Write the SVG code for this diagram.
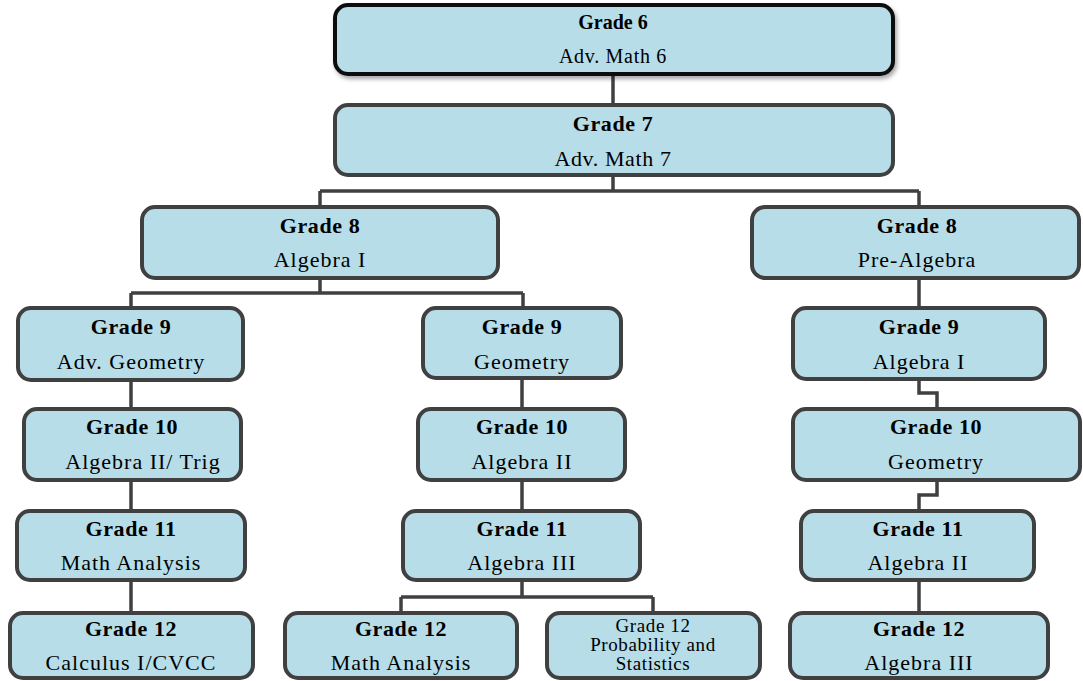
<svg xmlns="http://www.w3.org/2000/svg" width="1083" height="681" viewBox="0 0 1083 681">
<defs>
<style>
.box{fill:#b7dde8;stroke:#404040;stroke-width:4}
.top{fill:#b7dde8;stroke:#111;stroke-width:4}
.con{fill:none;stroke:#404040;stroke-width:3.5;stroke-linejoin:miter}
text{font-family:"Liberation Serif","Times New Roman",serif;fill:#000;text-anchor:middle}
.t{font-weight:bold;font-size:22px;letter-spacing:0.6px}
.s{font-size:22px;letter-spacing:1px}
.ss{font-size:19px;letter-spacing:0.6px}
</style>
<filter id="sh" x="-5%" y="-20%" width="110%" height="150%">
<feDropShadow dx="2" dy="3" stdDeviation="2" flood-color="#000" flood-opacity="0.35"/>
</filter>
</defs>
<rect width="1083" height="681" fill="#fff"/>
<g id="connectors">
<path class="con" d="M613,74V105"/>
<path class="con" d="M613,175V191M320,191H919M320,191V207M919,191V207"/>
<path class="con" d="M320,278V293M131,293H523M131,293V308M523,293V308"/>
<path class="con" d="M919,278V308"/>
<path class="con" d="M131,380V409M131,480V511M131,580V613"/>
<path class="con" d="M522,378V409M522,480V511M522,580V597M401,597H653M401,597V613M653,597V613"/>
<path class="con" d="M919,379V393H937V409"/>
<path class="con" d="M937,480V495H919V511"/>
<path class="con" d="M919,580V613"/>
</g>
<g id="g6"><rect class="top" filter="url(#sh)" x="335" y="5" width="558" height="69" rx="13"/>
<text class="t" x="613" y="29" style="font-size:20px;letter-spacing:0">Grade 6</text>
<text class="s" x="613" y="63" style="font-size:20px;letter-spacing:0.7px">Adv. Math 6</text></g>
<g id="g7"><rect class="box" x="335" y="105" width="558" height="70" rx="13"/>
<text class="t" x="613" y="131">Grade 7</text>
<text class="s" x="613" y="166" style="letter-spacing:0.6px">Adv. Math 7</text></g>
<g id="g8a"><rect class="box" x="142" y="207" width="356" height="71" rx="13"/>
<text class="t" x="320" y="233">Grade 8</text>
<text class="s" x="320" y="267">Algebra I</text></g>
<g id="g8b"><rect class="box" x="752" y="207" width="327" height="71" rx="13"/>
<text class="t" x="917" y="233">Grade 8</text>
<text class="s" x="917" y="267">Pre-Algebra</text></g>
<g id="g9a"><rect class="box" x="18" y="308" width="225" height="72" rx="13"/>
<text class="t" x="131" y="334">Grade 9</text>
<text class="s" x="131" y="369">Adv. Geometry</text></g>
<g id="g9b"><rect class="box" x="423" y="308" width="198" height="70" rx="13"/>
<text class="t" x="522" y="334">Grade 9</text>
<text class="s" x="522" y="369">Geometry</text></g>
<g id="g9c"><rect class="box" x="793" y="308" width="252" height="71" rx="13"/>
<text class="t" x="919" y="334">Grade 9</text>
<text class="s" x="919" y="369">Algebra I</text></g>
<g id="g10a"><rect class="box" x="24" y="409" width="217" height="71" rx="13"/>
<text class="t" x="132" y="434">Grade 10</text>
<text class="s" x="143" y="469">Algebra II/ Trig</text></g>
<g id="g10b"><rect class="box" x="418" y="409" width="207" height="71" rx="13"/>
<text class="t" x="522" y="434">Grade 10</text>
<text class="s" x="522" y="469">Algebra II</text></g>
<g id="g10c"><rect class="box" x="793" y="409" width="287" height="71" rx="13"/>
<text class="t" x="936" y="434">Grade 10</text>
<text class="s" x="936" y="469">Geometry</text></g>
<g id="g11a"><rect class="box" x="17" y="511" width="228" height="69" rx="13"/>
<text class="t" x="131" y="536">Grade 11</text>
<text class="s" x="131" y="570">Math Analysis</text></g>
<g id="g11b"><rect class="box" x="403" y="511" width="237" height="69" rx="13"/>
<text class="t" x="522" y="536">Grade 11</text>
<text class="s" x="522" y="570">Algebra III</text></g>
<g id="g11c"><rect class="box" x="801" y="511" width="233" height="69" rx="13"/>
<text class="t" x="918" y="536">Grade 11</text>
<text class="s" x="918" y="570">Algebra II</text></g>
<g id="g12a"><rect class="box" x="10" y="613" width="243" height="65" rx="13"/>
<text class="t" x="131" y="636">Grade 12</text>
<text class="s" x="131" y="670">Calculus I/CVCC</text></g>
<g id="g12b"><rect class="box" x="285" y="613" width="232" height="65" rx="13"/>
<text class="t" x="401" y="636">Grade 12</text>
<text class="s" x="401" y="670">Math Analysis</text></g>
<g id="g12c"><rect class="box" x="547" y="613" width="213" height="65" rx="13"/>
<text class="ss" x="653" y="632">Grade 12</text>
<text class="ss" x="653" y="651">Probability and</text>
<text class="ss" x="653" y="670">Statistics</text></g>
<g id="g12d"><rect class="box" x="790" y="613" width="258" height="65" rx="13"/>
<text class="t" x="919" y="636">Grade 12</text>
<text class="s" x="919" y="670">Algebra III</text></g>
</svg>
